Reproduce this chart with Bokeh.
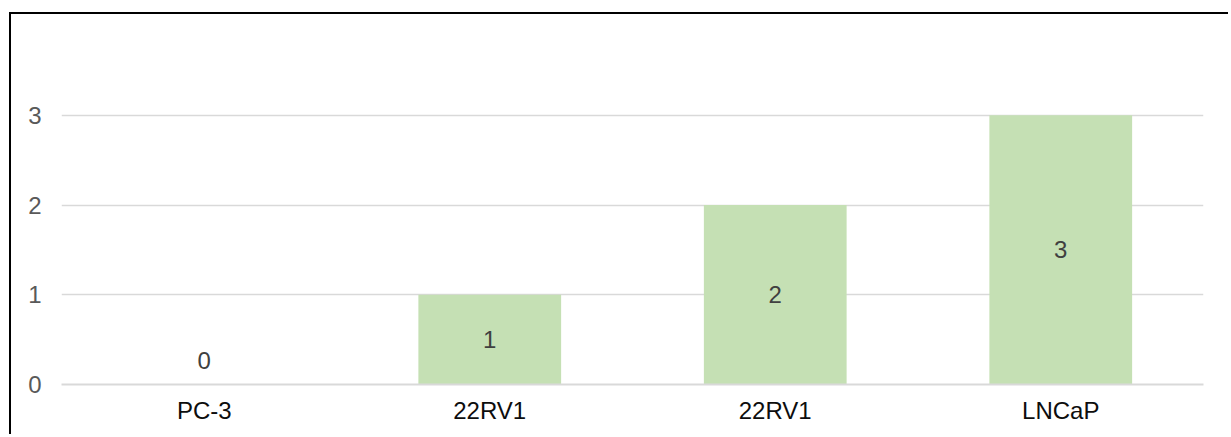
from bokeh.plotting import figure
from bokeh.models import ColumnDataSource, FixedTicker
from bokeh.core.properties import value
from bokeh.embed import file_html
from bokeh.resources import INLINE

categories = ["PC-3", "22RV1", "22RV1", "LNCaP"]
values = [0, 1, 2, 3]
y_ticks = [0, 1, 2, 3]

xs = list(range(len(categories)))
FONT = "Liberation Sans"
FS = "24px"

p = figure(width=1219, height=422, output_backend="svg", toolbar_location=None,
           x_range=(-0.5, len(categories) - 0.5), y_range=(0, 4),
           min_border_left=50, min_border_right=27, min_border_top=11, min_border_bottom=52)
p.outline_line_color = None
p.background_fill_color = "white"
p.border_fill_color = "white"

src = ColumnDataSource(dict(x=xs, top=values))
p.vbar(x="x", top="top", bottom=0, width=0.5, source=src,
       fill_color="#C5E0B4", line_color=None)

nz = ColumnDataSource(dict(x=[x for x, v in zip(xs, values) if v != 0],
                           y=[v / 2 for v in values if v != 0],
                           lab=[str(v) for v in values if v != 0]))
z = ColumnDataSource(dict(x=[x for x, v in zip(xs, values) if v == 0],
                          y=[v for v in values if v == 0],
                          lab=[str(v) for v in values if v == 0]))
p.text(x="x", y="y", text="lab", source=nz, text_align="center", text_baseline="middle",
       text_font=value(FONT), text_font_size=FS, text_color="#404040")
p.text(x="x", y="y", text="lab", source=z, text_align="center", text_baseline="middle",
       y_offset=-24, text_font=value(FONT), text_font_size=FS, text_color="#404040")

p.xgrid.grid_line_color = None
p.ygrid.grid_line_color = "#D9D9D9"
p.ygrid.grid_line_width = 1.5
p.yaxis.ticker = FixedTicker(ticks=y_ticks)
p.ygrid.ticker = FixedTicker(ticks=y_ticks)
p.yaxis.axis_line_color = None
p.yaxis.major_tick_line_color = None
p.yaxis.major_tick_out = 0
p.yaxis.minor_tick_line_color = None
p.yaxis.major_label_text_font = FONT
p.yaxis.major_label_text_font_size = FS
p.yaxis.major_label_text_color = "#595959"
p.yaxis.major_label_standoff = 20

p.xaxis.ticker = FixedTicker(ticks=xs)
p.xaxis.major_label_overrides = {i: c for i, c in enumerate(categories)}
p.xaxis.axis_line_color = "#D9D9D9"
p.xaxis.axis_line_width = 2
p.xaxis.major_tick_line_color = None
p.xaxis.major_tick_out = 0
p.xaxis.minor_tick_line_color = None
p.xaxis.major_label_text_font = FONT
p.xaxis.major_label_text_font_size = FS
p.xaxis.major_label_text_color = "#0d0d0d"
p.xaxis.major_label_standoff = 12

p.styles = {"border-top": "2px solid black", "border-left": "2px solid black",
            "margin-top": "12px", "margin-left": "9px"}

open("out.html", "w").write(file_html(p, INLINE))
